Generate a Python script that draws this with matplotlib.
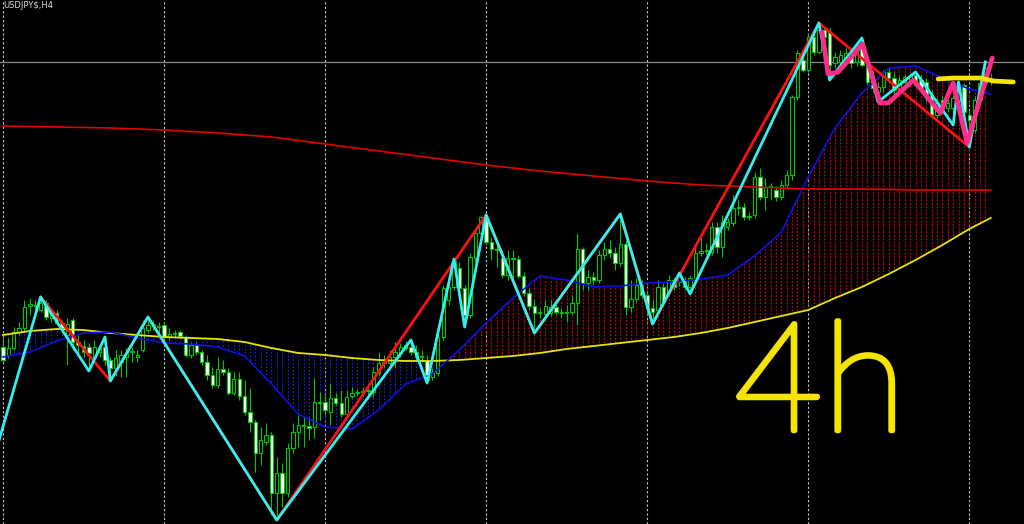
#!/usr/bin/env python3
"""
USDJPY$ H4 chart (MT4 style): candles, 3 moving averages with a hatched band,
two zigzag levels and hand-drawn annotations.
Output: out.png
"""

import numpy as np
import matplotlib
matplotlib.use("Agg")
import matplotlib.pyplot as plt
import matplotlib.patheffects as pe
from matplotlib.path import Path
from matplotlib.patches import PathPatch

OUT = "out.png"

# ── 1. Candles (one entry per H4 bar) ──────────────────────────────────────
opens = [
    116.53, 116.45, 116.52, 116.68, 116.72, 116.94, 116.95, 116.90, 116.97, 116.82,
    116.87, 116.77, 116.65, 116.80, 116.58, 116.54, 116.53, 116.43, 116.48, 116.53,
    116.40, 116.32, 116.38, 116.43, 116.48, 116.43, 116.50, 116.70, 116.74, 116.73,
    116.75, 116.63, 116.66, 116.68, 116.63, 116.45, 116.55, 116.48, 116.38, 116.25,
    116.15, 116.31, 116.28, 116.07, 116.21, 116.04, 115.88, 115.78, 115.47, 115.58,
    115.65, 115.07, 115.27, 115.07, 115.52, 115.68, 115.74, 115.74, 115.73, 115.97,
    115.98, 115.88, 116.02, 115.97, 115.86, 116.04, 116.07, 116.08, 116.09, 116.08,
    116.27, 116.37, 116.37, 116.43, 116.47, 116.52, 116.53, 116.48, 116.43, 116.39,
    116.23, 116.27, 116.63, 117.00, 117.13, 117.32, 117.12, 116.85, 117.42, 117.67,
    117.83, 117.58, 117.51, 117.42, 117.25, 117.41, 117.41, 117.24, 117.07, 116.94,
    116.87, 116.86, 116.87, 116.93, 116.87, 116.87, 116.88, 116.97, 117.51, 117.17,
    117.23, 117.20, 117.45, 117.51, 117.47, 117.37, 117.56, 116.93, 117.01, 117.15,
    117.05, 116.92, 116.90, 117.13, 117.07, 117.20, 117.18, 117.20, 117.13, 117.20,
    117.47, 117.49, 117.48, 117.73, 117.53, 117.73, 117.77, 117.92, 117.93, 117.83,
    117.85, 118.23, 118.03, 118.13, 118.10, 118.03, 118.15, 118.25, 119.03, 119.40,
    119.30, 119.63, 119.48, 119.70, 119.68, 119.37, 119.38, 119.37, 119.45, 119.38,
    119.57, 119.35, 119.25, 119.08, 119.13, 119.28, 119.22, 119.10, 119.18, 119.20,
    119.25, 119.20, 119.18, 119.05, 118.85, 119.00, 118.92, 118.92, 119.00, 119.15,
    118.85, 118.70, 119.00, 119.17, 119.21,
]
highs = [
    116.62, 116.62, 116.73, 116.78, 117.00, 117.02, 117.00, 117.03, 117.00, 116.92,
    116.90, 116.80, 116.82, 116.82, 116.65, 116.60, 116.57, 116.60, 116.55, 116.63,
    116.43, 116.50, 116.50, 116.52, 116.53, 116.50, 116.80, 116.83, 116.80, 116.78,
    116.78, 116.72, 116.70, 116.70, 116.65, 116.58, 116.58, 116.50, 116.45, 116.33,
    116.43, 116.40, 116.32, 116.28, 116.28, 116.20, 116.12, 115.80, 115.73, 115.77,
    115.68, 115.43, 115.37, 115.57, 115.77, 115.85, 115.83, 115.83, 116.22, 116.08,
    116.05, 116.17, 116.07, 116.10, 116.10, 116.13, 116.11, 116.13, 116.15, 116.33,
    116.48, 116.45, 116.50, 116.58, 116.57, 116.59, 116.60, 116.55, 116.50, 116.45,
    116.32, 116.66, 117.15, 117.20, 117.41, 117.38, 117.15, 117.47, 117.72, 117.84,
    117.85, 117.63, 117.57, 117.50, 117.50, 117.50, 117.45, 117.28, 117.12, 117.00,
    116.92, 117.00, 117.00, 117.00, 116.92, 116.95, 117.05, 117.67, 117.53, 117.30,
    117.28, 117.50, 117.58, 117.60, 117.53, 117.86, 117.60, 117.20, 117.22, 117.20,
    117.10, 117.00, 117.20, 117.17, 117.25, 117.23, 117.27, 117.23, 117.25, 117.55,
    117.63, 117.57, 117.78, 117.78, 117.85, 117.82, 118.05, 118.00, 117.97, 117.88,
    118.28, 118.32, 118.22, 118.17, 118.14, 118.20, 118.30, 119.05, 119.50, 119.48,
    119.67, 119.67, 119.77, 119.73, 119.72, 119.48, 119.50, 119.52, 119.50, 119.58,
    119.62, 119.40, 119.30, 119.18, 119.30, 119.32, 119.28, 119.24, 119.26, 119.27,
    119.28, 119.25, 119.22, 119.10, 119.02, 119.05, 119.02, 119.05, 119.18, 119.17,
    118.90, 119.04, 119.22, 119.38, 119.27,
]
lows = [
    116.38, 116.42, 116.50, 116.65, 116.68, 116.85, 116.88, 116.88, 116.80, 116.78,
    116.75, 116.68, 116.35, 116.50, 116.43, 116.43, 116.29, 116.38, 116.43, 116.35,
    116.19, 116.24, 116.23, 116.23, 116.38, 116.38, 116.48, 116.67, 116.70, 116.67,
    116.60, 116.60, 116.63, 116.62, 116.43, 116.42, 116.45, 116.35, 116.20, 116.12,
    116.12, 116.25, 116.05, 116.05, 116.00, 115.85, 115.68, 115.28, 115.35, 115.55,
    114.85, 114.80, 114.93, 115.03, 115.47, 115.53, 115.53, 115.60, 115.62, 115.80,
    115.85, 115.75, 115.95, 115.83, 115.85, 116.02, 116.04, 116.04, 116.04, 116.03,
    116.24, 116.32, 116.33, 116.33, 116.43, 116.50, 116.45, 116.40, 116.38, 116.17,
    116.20, 116.24, 116.60, 116.95, 117.10, 117.08, 116.73, 116.82, 117.38, 117.64,
    117.55, 117.40, 117.33, 117.22, 117.20, 117.22, 117.22, 117.04, 116.90, 116.67,
    116.82, 116.82, 116.84, 116.85, 116.82, 116.78, 116.85, 116.75, 117.10, 117.10,
    117.15, 117.17, 117.40, 117.42, 117.30, 117.34, 116.85, 116.88, 116.98, 117.02,
    116.85, 116.76, 116.88, 116.95, 117.04, 117.10, 117.14, 117.10, 117.06, 117.17,
    117.44, 117.45, 117.45, 117.47, 117.43, 117.70, 117.74, 117.85, 117.80, 117.80,
    117.82, 118.00, 117.90, 118.00, 117.99, 118.00, 118.12, 118.20, 119.00, 119.28,
    119.28, 119.45, 119.46, 119.60, 119.20, 119.32, 119.35, 119.34, 119.32, 119.34,
    119.33, 119.15, 119.08, 118.98, 119.08, 119.18, 119.05, 119.05, 119.15, 119.15,
    119.12, 119.08, 118.98, 118.82, 118.82, 118.88, 118.88, 118.75, 118.90, 118.82,
    118.53, 118.67, 118.95, 119.15, 119.15,
]
closes = [
    116.40, 116.52, 116.68, 116.72, 116.93, 116.96, 116.94, 116.97, 116.83, 116.87,
    116.77, 116.72, 116.76, 116.58, 116.55, 116.48, 116.47, 116.53, 116.52, 116.40,
    116.32, 116.42, 116.45, 116.47, 116.49, 116.45, 116.72, 116.75, 116.76, 116.74,
    116.63, 116.66, 116.67, 116.64, 116.45, 116.55, 116.48, 116.38, 116.25, 116.15,
    116.31, 116.28, 116.07, 116.21, 116.04, 115.88, 115.78, 115.47, 115.60, 115.65,
    115.07, 115.27, 115.07, 115.52, 115.68, 115.75, 115.75, 115.72, 115.98, 115.98,
    115.90, 116.02, 115.97, 115.86, 116.03, 116.07, 116.08, 116.09, 116.10, 116.28,
    116.37, 116.38, 116.43, 116.48, 116.53, 116.55, 116.48, 116.43, 116.44, 116.20,
    116.28, 116.63, 117.12, 117.13, 117.39, 117.12, 116.85, 117.43, 117.67, 117.83,
    117.58, 117.51, 117.50, 117.25, 117.42, 117.42, 117.24, 117.07, 116.94, 116.87,
    116.88, 116.94, 116.93, 116.88, 116.88, 116.88, 116.97, 117.51, 117.17, 117.23,
    117.20, 117.45, 117.51, 117.47, 117.37, 117.56, 116.93, 117.01, 117.15, 117.05,
    116.92, 116.88, 117.13, 116.98, 117.20, 117.13, 117.23, 117.13, 117.22, 117.47,
    117.49, 117.50, 117.73, 117.53, 117.78, 117.78, 117.92, 117.93, 117.83, 117.84,
    118.23, 118.03, 118.13, 118.14, 118.03, 118.15, 118.25, 119.03, 119.47, 119.30,
    119.63, 119.48, 119.70, 119.63, 119.35, 119.43, 119.45, 119.47, 119.37, 119.55,
    119.35, 119.18, 119.12, 119.13, 119.28, 119.22, 119.10, 119.20, 119.23, 119.25,
    119.15, 119.12, 119.02, 118.85, 118.97, 118.92, 118.97, 119.02, 119.15, 118.88,
    118.80, 119.00, 119.17, 119.32, 119.22,
]

# ── 2. Moving averages (sampled every 5 bars / every 10 bars for the slow one)
ma_idx = [0, 5, 10, 15, 20, 25, 30, 35, 40, 45, 50, 55, 60, 65, 70, 75, 80, 85, 90,
          95, 100, 105, 110, 115, 120, 125, 130, 135, 140, 145, 150, 155, 160, 165,
          170, 175, 180, 184]
ma_fast = [116.43, 116.48, 116.59, 116.67, 116.68, 116.62, 116.57, 116.56, 116.53,
           116.44, 116.16, 115.86, 115.73, 115.71, 115.90, 116.16, 116.26, 116.50,
           116.77, 117.02, 117.24, 117.20, 117.13, 117.14, 117.17, 117.18, 117.21,
           117.25, 117.44, 117.68, 118.23, 118.72, 119.07, 119.32, 119.34, 119.22,
           119.11, 119.06]
ma_mid = [116.65, 116.69, 116.71, 116.70, 116.67, 116.65, 116.63, 116.62, 116.61,
          116.58, 116.52, 116.47, 116.45, 116.42, 116.40, 116.39, 116.39, 116.40,
          116.42, 116.44, 116.47, 116.51, 116.54, 116.57, 116.60, 116.63, 116.67,
          116.72, 116.78, 116.84, 116.90, 117.02, 117.13, 117.26, 117.40, 117.55,
          117.71, 117.82]
slow_idx = [0, 10, 20, 30, 40, 50, 60, 70, 80, 90, 100, 110, 120, 130, 140, 150,
            160, 170, 180, 184]
ma_slow = [118.74, 118.73, 118.72, 118.70, 118.67, 118.63, 118.56, 118.49, 118.42,
           118.35, 118.29, 118.24, 118.19, 118.15, 118.13, 118.11, 118.11, 118.10,
           118.10, 118.10]

# ── 3. ZigZag swing points (bar index, price) ───────────────────────────────
zz_small_idx = [-1, 7, 16, 19, 20, 27, 51, 76, 79, 84, 86, 90, 99, 115, 121, 126,
                128, 152, 154, 160, 163, 170, 177, 178, 180, 183]
zz_small_px = [115.55, 117.03, 116.29, 116.63, 116.19, 116.83, 114.80, 116.60,
               116.17, 117.41, 116.73, 117.85, 116.67, 117.86, 116.76, 117.27,
               117.06, 119.77, 119.20, 119.62, 118.98, 119.28, 118.75, 119.18,
               118.53, 119.38]
zz_big_idx = [7, 20, 27, 51, 90, 99, 115, 121, 152, 180, 183]
zz_big_px = [117.03, 116.19, 116.83, 114.80, 117.85, 116.67, 117.86, 116.76,
             119.77, 118.53, 119.38]

# hand-drawn marks on the screenshot
pen_pink_idx = [152.6, 153.7, 155.6, 160.1, 163.4, 164.9, 169.6, 174.6, 177.0,
                179.6, 184.3]
pen_pink_px = [119.68, 119.26, 119.28, 119.56, 118.97, 118.97, 119.20, 118.87,
               119.17, 118.57, 119.42]
pen_yellow_idx = [174.2, 177.0, 182.0, 184.5, 188.2]
pen_yellow_px = [119.21, 119.22, 119.22, 119.19, 119.18]

bid_price = 119.38
separators = [0, 30, 60, 90, 120, 150, 180]

# ── 4. Plot ──────────────────────────────────────────────────────────────────
fig = plt.figure(figsize=(10.24, 5.24), dpi=100, facecolor="black")
ax = fig.add_axes([0, 0, 1, 1], facecolor="black")
ax.set_xlim(-0.56, 190.2)
ax.set_ylim(114.76, 120.00)
ax.axis("off")

o = np.array(opens); h = np.array(highs); l = np.array(lows); c = np.array(closes)
x = np.arange(len(o))

for s in separators:
    ax.axvline(s, color="#c8c8c8", lw=0.8, ls=(0, (2, 2)), zorder=0.5)

# band between fast and mid MA: dotted bar lines clipped to the band
f = np.array(ma_fast); m = np.array(ma_mid)
for cond, col in ((f >= m, "#e00000"), (f < m, "#2020e8")):
    band = ax.fill_between(ma_idx, f, m, where=cond, interpolate=True,
                           facecolor="none", edgecolor="none", lw=0)
    clip = PathPatch(Path.make_compound_path(*band.get_paths()),
                     transform=ax.transData, facecolor="none", edgecolor="none")
    ax.add_patch(clip)
    vl = ax.vlines(x, 114.76, 120.0, color=col, lw=0.8, ls=(0, (1.6, 1.6)), zorder=1)
    vl.set_clip_path(clip)

ax.axhline(bid_price, color="#8c8c8c", lw=0.9, zorder=1.5)

# candles: bull = black body, bear = white body, lime outline
green = "#00c800"
ax.vlines(x, l, h, color=green, lw=0.8, zorder=2)
body_col = np.where(c >= o, "black", "white")
ax.bar(x, np.abs(c - o), bottom=np.minimum(o, c), width=0.62, color=body_col,
       edgecolor=green, lw=0.8, zorder=2.5)

ax.plot(ma_idx, ma_mid, color="#e6e600", lw=1.3, zorder=3)
ax.plot(ma_idx, ma_fast, color="#1010e0", lw=1.2, zorder=3)
ax.plot(slow_idx, ma_slow, color="#e00000", lw=1.2, zorder=3)

ax.plot(zz_big_idx, zz_big_px, color="#ff1010", lw=2.0, zorder=4)
ax.plot(zz_small_idx, zz_small_px, color="#30f0f0", lw=2.0, zorder=5)

ax.plot(pen_pink_idx, pen_pink_px, color="#ff2a8a", lw=3.4, zorder=6,
        solid_joinstyle="round", solid_capstyle="round")
ax.plot(pen_yellow_idx, pen_yellow_px, color="#f5e400", lw=3.4, zorder=6,
        solid_capstyle="round")

fig.text(0.003, 0.998, "USDJPY$,H4", color="#dcdcdc", fontsize=6, va="top", ha="left")
fig.text(0.717, 0.178, "4h", color="#f5e400", fontsize=110, fontweight="light",
         family=["Lato", "DejaVu Sans"], ha="left", va="baseline",
         path_effects=[pe.withStroke(linewidth=3.6, foreground="#f5e400",
                                     capstyle="round", joinstyle="round")])

plt.savefig(OUT, dpi=100, facecolor="black")
print(f"Saved → {OUT}")
